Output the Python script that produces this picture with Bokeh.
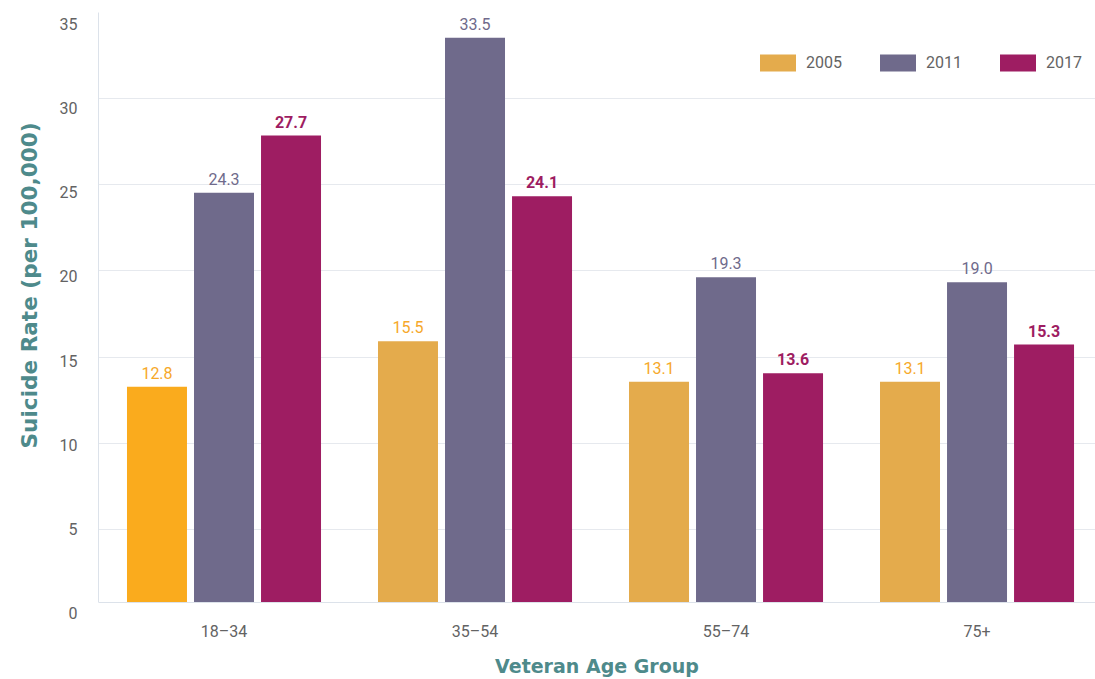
from bokeh.plotting import figure
from bokeh.models import (Range1d, LinearAxis, FixedTicker, Grid, Span, Legend,
                          LegendItem, ColumnDataSource, Title)
from bokeh.core.properties import value
from bokeh.embed import file_html
from bokeh.resources import INLINE

# ---- data ----
groups = ["18–34", "35–54", "55–74", "75+"]
years = ["2005", "2011", "2017"]
rate_2005 = [12.8, 15.5, 13.1, 13.1]
rate_2011 = [24.3, 33.5, 19.3, 19.0]
rate_2017 = [27.7, 24.1, 13.6, 15.3]
y_ticks = [0, 5, 10, 15, 20, 25, 30, 35]

# ---- style ----
bar_color = {"2005": "#E4AB4C", "2011": "#6F6A8B", "2017": "#9E1D62"}
highlight_2005 = "#FAAB1D"
label_color = {"2005": "#F6A82A", "2011": "#6F6A8B", "2017": "#9E1D62"}
label_style = {"2005": "normal", "2011": "normal", "2017": "bold"}
teal = "#4E8A8B"
tick_gray = "#636363"
grid_color = "#E6E9EE"
base_color = "#DCE2EA"

p = figure(width=1095, height=679,
           x_range=Range1d(0, 3.972), y_range=Range1d(-0.771, 35.0),
           y_axis_location=None, output_backend="svg", toolbar_location=None,
           min_border_left=98, min_border_right=0, min_border_top=12,
           min_border_bottom=64)
p.extra_y_ranges = {"grid": Range1d(0, 35), "lab": Range1d(-0.119, 35.653)}
p.outline_line_color = None
p.background_fill_color = "white"
p.grid.visible = False

# gridlines
p.add_layout(Grid(dimension=1, ticker=FixedTicker(ticks=y_ticks[1:]),
                  y_range_name="grid", grid_line_color=grid_color,
                  grid_line_width=1))

# left border line
line_axis = LinearAxis(bounds=(0, 35), ticker=FixedTicker(ticks=[]),
                       major_tick_out=0, minor_tick_out=0, major_tick_in=0,
                       minor_tick_in=0, major_label_standoff=0,
                       axis_line_color=base_color)
p.add_layout(line_axis, "left")

lab_axis = LinearAxis(y_range_name="lab", ticker=FixedTicker(ticks=y_ticks),
                      axis_line_color=None, major_tick_line_color=None,
                      minor_tick_line_color=None, major_label_standoff=15,
                      major_label_text_font="Roboto",
                      major_label_text_font_size="16px",
                      major_label_text_color=tick_gray)
p.add_layout(lab_axis, "left")

p.add_layout(Title(text="Suicide Rate (per 100,000)", align="left", offset=167,
                   vertical_align="middle", standoff=28,
                   text_font="DejaVu Sans", text_font_style="bold",
                   text_font_size="21.6px", text_color=teal), "left")

# x axis
centers = [i + 0.5 for i in range(len(groups))]
xa = p.xaxis[0]
xa.ticker = FixedTicker(ticks=centers)
xa.major_label_overrides = {c: g for c, g in zip(centers, groups)}
xa.axis_line_color = None
xa.major_tick_line_color = None
xa.minor_tick_line_color = None
xa.major_label_standoff = 0
xa.major_label_text_font = "Roboto"
xa.major_label_text_font_size = "16px"
xa.major_label_text_color = tick_gray
xa.axis_label = "Veteran Age Group"
xa.axis_label_text_font = "DejaVu Sans"
xa.axis_label_text_font_style = "bold"
xa.axis_label_text_font_size = "19px"
xa.axis_label_text_color = teal
xa.axis_label_standoff = 11

p.add_layout(Span(location=0, dimension="width", line_color=base_color,
                  line_width=1))

offsets = [-0.267, 0.0, 0.267]
series = [rate_2005, rate_2011, rate_2017]
items = []
for year, vals, off in zip(years, series, offsets):
    colors = [bar_color[year]] * len(vals)
    if year == "2005":
        colors[0] = highlight_2005
    src = ColumnDataSource(dict(x=[c + off for c in centers], top=vals,
                                label=[f"{v:.1f}" for v in vals],
                                color=colors))
    r = p.vbar(x="x", top="top", bottom=0, width=0.239, fill_color="color",
               line_color=None, source=src)
    p.text(x="x", y="top", text="label", source=src, text_align="center",
           text_baseline="bottom", y_offset=-8,
           text_color=label_color[year], text_font=value("Roboto"),
           text_font_size="16px", text_font_style=label_style[year])
    items.append(LegendItem(label=year, renderers=[r], index=1))

legend = Legend(items=items, orientation="horizontal", location=(657, 542),
                padding=0, margin=0, spacing=33, glyph_width=45,
                glyph_height=21, label_standoff=6,
                label_text_font="Roboto", label_text_font_size="16px",
                label_text_color=tick_gray, border_line_color=None,
                background_fill_alpha=0)
p.add_layout(legend, "center")

open("out.html", "w").write(file_html(p, INLINE))
